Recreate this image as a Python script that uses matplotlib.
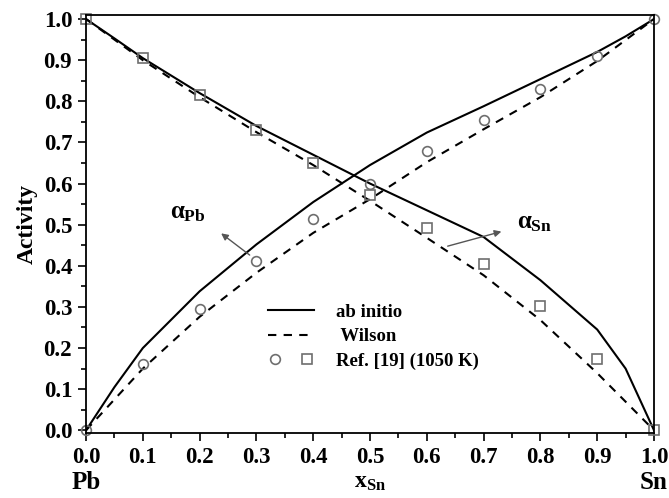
import matplotlib
matplotlib.use("Agg")
import matplotlib.pyplot as plt
from matplotlib.lines import Line2D
from matplotlib.legend_handler import HandlerTuple
from matplotlib.ticker import MultipleLocator, FormatStrFormatter

plt.rcParams['font.family'] = ['Liberation Serif', 'DejaVu Serif']
plt.rcParams['font.weight'] = 'bold'
plt.rcParams['mathtext.fontset'] = 'custom'
plt.rcParams['mathtext.rm'] = 'Liberation Serif:bold'
plt.rcParams['mathtext.it'] = 'Liberation Serif:bold'
plt.rcParams['mathtext.bf'] = 'Liberation Serif:bold'

x_fine = [0.0, 0.05, 0.1, 0.2, 0.3, 0.4, 0.5, 0.6, 0.7, 0.8, 0.9, 0.95, 1.0]
sn_abinitio = [0.0, 0.105, 0.2, 0.338, 0.452, 0.555, 0.645, 0.724, 0.788, 0.854, 0.92, 0.958, 1.0]
pb_abinitio = [1.0, 0.953, 0.905, 0.82, 0.74, 0.67, 0.60, 0.535, 0.47, 0.365, 0.245, 0.15, 0.0]

x_wilson = [0.0, 0.1, 0.2, 0.3, 0.4, 0.5, 0.6, 0.7, 0.8, 0.9, 1.0]
sn_wilson = [0.0, 0.15, 0.276, 0.383, 0.48, 0.562, 0.652, 0.732, 0.81, 0.898, 1.0]
pb_wilson = [1.0, 0.9, 0.81, 0.725, 0.645, 0.558, 0.468, 0.377, 0.268, 0.139, 0.0]

x_ref = [0.0, 0.1, 0.2, 0.3, 0.4, 0.5, 0.6, 0.7, 0.8, 0.9, 1.0]
sn_ref = [0.0, 0.161, 0.296, 0.412, 0.513, 0.598, 0.678, 0.754, 0.829, 0.909, 1.0]
pb_ref = [1.0, 0.905, 0.815, 0.73, 0.65, 0.572, 0.493, 0.405, 0.302, 0.173, 0.0]

fig = plt.figure(figsize=(6.69, 4.98), dpi=100)
ax = fig.add_axes([0.1286, 0.131, 0.849, 0.839])

dash = (0, (4, 3.5))
ax.plot(x_fine, sn_abinitio, color='black', lw=1.5)
ax.plot(x_fine, pb_abinitio, color='black', lw=1.5)
ax.plot(x_wilson, sn_wilson, color='black', lw=1.5, ls=dash)
ax.plot(x_wilson, pb_wilson, color='black', lw=1.5, ls=dash)
ax.plot(x_ref, sn_ref, 'o', ms=7, mfc='none', mec='#6e6e6e', mew=1.2, clip_on=False)
ax.plot(x_ref, pb_ref, 's', ms=6.5, mfc='none', mec='#6e6e6e', mew=1.2, clip_on=False)

ax.set_xlim(0, 1)
ax.set_ylim(-0.006, 1.01)
ax.xaxis.set_major_locator(MultipleLocator(0.1))
ax.xaxis.set_minor_locator(MultipleLocator(0.05))
ax.yaxis.set_major_locator(MultipleLocator(0.1))
ax.yaxis.set_minor_locator(MultipleLocator(0.05))
ax.xaxis.set_major_formatter(FormatStrFormatter('%.1f'))
ax.yaxis.set_major_formatter(FormatStrFormatter('%.1f'))
ax.tick_params(which='both', direction='out', top=False, right=False, width=1.2)
ax.tick_params(which='major', length=6, labelsize=16.5, pad=4)
ax.tick_params(which='minor', length=3.5)
for s in ax.spines.values():
    s.set_linewidth(1.3)

ax.set_ylabel('Activity', fontsize=17, fontweight='bold', labelpad=4)
ax.set_xlabel(r'x$_{\mathregular{Sn}}$', fontsize=17, fontweight='bold', labelpad=3)
ax.text(0.0, -0.118, 'Pb', transform=ax.transAxes, ha='center', va='center', fontsize=18, fontweight='bold')
ax.text(1.0, -0.118, 'Sn', transform=ax.transAxes, ha='center', va='center', fontsize=18, fontweight='bold')

ax.annotate('', xy=(0.234, 0.483), xytext=(0.292, 0.422),
            arrowprops=dict(arrowstyle='-|>', color='#555555', lw=1.0, mutation_scale=10))
ax.text(0.18, 0.53, r'$\alpha_{\mathregular{Pb}}$', fontsize=18, ha='center', va='center')
ax.annotate('', xy=(0.736, 0.485), xytext=(0.632, 0.446),
            arrowprops=dict(arrowstyle='-|>', color='#555555', lw=1.0, mutation_scale=10))
ax.text(0.79, 0.505, r'$\alpha_{\mathregular{Sn}}$', fontsize=18, ha='center', va='center')

h1 = Line2D([], [], color='black', lw=1.5)
h2 = Line2D([], [], color='black', lw=1.5, ls=dash)
hc = Line2D([], [], marker='o', ls='none', ms=7, mfc='none', mec='#6e6e6e', mew=1.2)
hs = Line2D([], [], marker='s', ls='none', ms=6.5, mfc='none', mec='#6e6e6e', mew=1.2)
ax.legend([h1, h2, (hc, hs)], ['ab initio', ' Wilson', 'Ref. [19] (1050 K)'],
          handler_map={tuple: HandlerTuple(ndivide=None, pad=1.0)},
          loc='upper left', bbox_to_anchor=(0.29, 0.35), frameon=False,
          handlelength=2.5, handletextpad=1.15, labelspacing=0.4,
          prop={'family': 'Liberation Serif', 'weight': 'bold', 'size': 13.5})

fig.savefig('out.png', dpi=100)
